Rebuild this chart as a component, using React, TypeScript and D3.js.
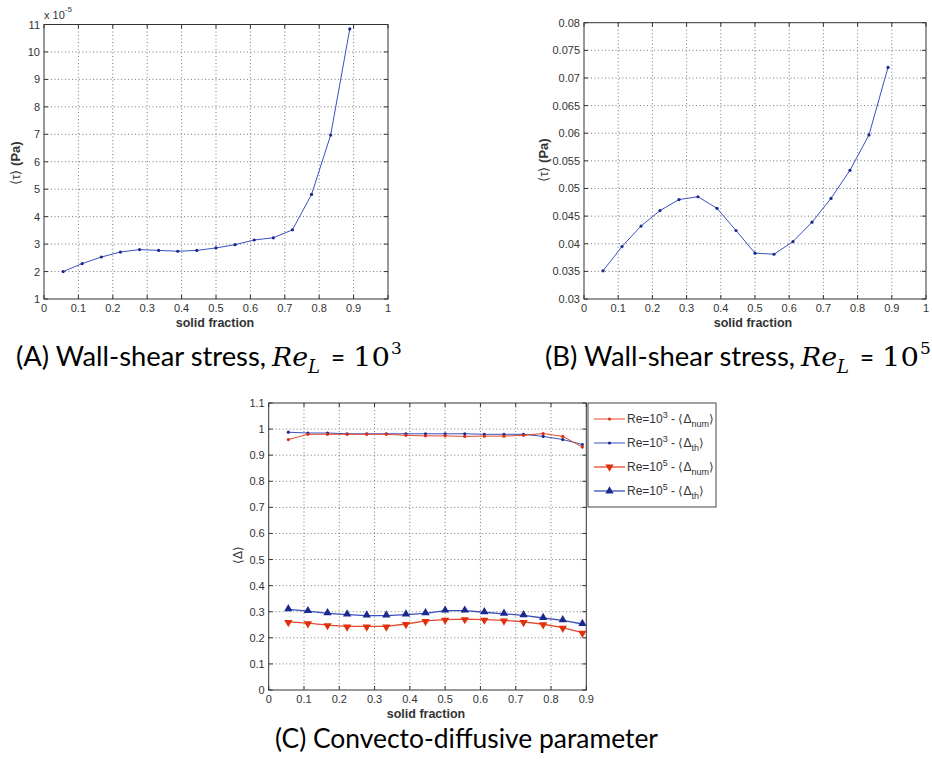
import React from "react";
import * as d3 from "d3";

// ---------- data ----------
const solidFraction = [0.0556, 0.1111, 0.1667, 0.2222, 0.2778, 0.3333, 0.3889, 0.4444, 0.5, 0.5556, 0.6111, 0.6667, 0.7222, 0.7778, 0.8333, 0.8889];
// wall shear stress, Re_L = 1e3 (x 1e-5 Pa)
const tauRe3 = [2.0, 2.29, 2.53, 2.71, 2.8, 2.77, 2.74, 2.77, 2.86, 2.98, 3.15, 3.23, 3.52, 4.81, 6.97, 10.84];
// wall shear stress, Re_L = 1e5 (Pa)
const tauRe5 = [0.0351, 0.0395, 0.0432, 0.046, 0.048, 0.0485, 0.0464, 0.0424, 0.0383, 0.0381, 0.0404, 0.0439, 0.0482, 0.0533, 0.0597, 0.0719];
// convecto-diffusive parameter
const deltaNumRe3 = [0.96, 0.98, 0.98, 0.98, 0.98, 0.98, 0.976, 0.974, 0.974, 0.972, 0.973, 0.973, 0.976, 0.983, 0.972, 0.931];
const deltaThRe3 = [0.988, 0.985, 0.985, 0.982, 0.982, 0.982, 0.982, 0.982, 0.982, 0.982, 0.98, 0.98, 0.98, 0.972, 0.96, 0.941];
const deltaNumRe5 = [0.261, 0.256, 0.249, 0.244, 0.244, 0.244, 0.253, 0.265, 0.27, 0.272, 0.27, 0.267, 0.261, 0.252, 0.239, 0.22];
const deltaThRe5 = [0.309, 0.302, 0.294, 0.289, 0.285, 0.285, 0.289, 0.294, 0.304, 0.304, 0.298, 0.292, 0.286, 0.276, 0.267, 0.253];

const xTicksAB = [0, 0.1, 0.2, 0.3, 0.4, 0.5, 0.6, 0.7, 0.8, 0.9, 1];
const yTicksA = [1, 2, 3, 4, 5, 6, 7, 8, 9, 10, 11];
const yTicksB = [0.03, 0.035, 0.04, 0.045, 0.05, 0.055, 0.06, 0.065, 0.07, 0.075, 0.08];
const xTicksC = [0, 0.1, 0.2, 0.3, 0.4, 0.5, 0.6, 0.7, 0.8, 0.9];
const yTicksC = [0, 0.1, 0.2, 0.3, 0.4, 0.5, 0.6, 0.7, 0.8, 0.9, 1, 1.1];

// ---------- style ----------
const AX_FONT = "'Liberation Sans', Arial, sans-serif";
const CAP_FONT = "Lato, 'Open Sans', sans-serif";
const MATH_FONT = "'DejaVu Serif', 'Liberation Serif', serif";
const TXT = "#333";
const BLUE_LINE = "#3c4fbf";
const BLUE_MARK = "#1a2a8c";
const RED_LINE = "#e4492c";
const RED_MARK = "#e0300c";

type Box = { l: number; t: number; r: number; b: number };

function fmt(v: number) {
  return String(+v.toFixed(3));
}

function Frame({ box, xs, ys, xTicks, yTicks }: any) {
  const tl = 4;
  return (
    <g>
      <rect x={box.l} y={box.t} width={box.r - box.l} height={box.b - box.t} fill="#fff" />
      {xTicks.slice(1, -1).map((v: number) => (
        <line key={"gx" + v} x1={xs(v)} x2={xs(v)} y1={box.t} y2={box.b} stroke="#555" strokeWidth={0.8} strokeDasharray="1,2.5" />
      ))}
      {yTicks.slice(1, -1).map((v: number) => (
        <line key={"gy" + v} x1={box.l} x2={box.r} y1={ys(v)} y2={ys(v)} stroke="#555" strokeWidth={0.8} strokeDasharray="1,2.5" />
      ))}
      {xTicks.map((v: number) => (
        <g key={"tx" + v}>
          <line x1={xs(v)} x2={xs(v)} y1={box.b} y2={box.b - tl} stroke="#333" />
          <line x1={xs(v)} x2={xs(v)} y1={box.t} y2={box.t + tl} stroke="#333" />
          <text x={xs(v)} y={box.b + 13} textAnchor="middle" fontFamily={AX_FONT} fontSize={11} fill={TXT}>
            {fmt(v)}
          </text>
        </g>
      ))}
      {yTicks.map((v: number) => (
        <g key={"ty" + v}>
          <line x1={box.l} x2={box.l + tl} y1={ys(v)} y2={ys(v)} stroke="#333" />
          <line x1={box.r} x2={box.r - tl} y1={ys(v)} y2={ys(v)} stroke="#333" />
          <text x={box.l - 4} y={ys(v) + 4} textAnchor="end" fontFamily={AX_FONT} fontSize={11} fill={TXT}>
            {fmt(v)}
          </text>
        </g>
      ))}
      <rect x={box.l} y={box.t} width={box.r - box.l} height={box.b - box.t} fill="none" stroke="#333" strokeWidth={1} />
    </g>
  );
}

function Series({ xs, ys, xv, yv, line, mark, kind }: any) {
  const gen = d3
    .line<number>()
    .x((_, i) => xs(xv[i]))
    .y((d) => ys(d));
  const tri = d3.symbol(d3.symbolTriangle, 30)();
  return (
    <g>
      <path d={gen(yv) || ""} fill="none" stroke={line} strokeWidth={kind === "dot" ? 1 : 1.3} />
      {yv.map((v: number, i: number) => {
        const cx = xs(xv[i]);
        const cy = ys(v);
        if (kind === "dot") return <circle key={i} cx={cx} cy={cy} r={1.6} fill={mark} />;
        if (kind === "down")
          return <path key={i} d={tri || ""} transform={`translate(${cx},${cy + 0.5}) rotate(180)`} fill={mark} />;
        return <path key={i} d={tri || ""} transform={`translate(${cx},${cy - 0.5})`} fill={mark} />;
      })}
    </g>
  );
}

function Caption({ x, y, label, exp }: { x: number; y: number; label: string; exp: string }) {
  return (
    <g fill="#000">
      <text x={x} y={y} fontFamily={CAP_FONT} fontSize={27} textLength={250} lengthAdjust="spacingAndGlyphs">
        {`(${label}) Wall-shear stress,`}
      </text>
      <text x={x + 256} y={y} fontFamily={MATH_FONT} fontStyle="italic" fontSize={26} textLength={36} lengthAdjust="spacingAndGlyphs">
        Re
      </text>
      <text x={x + 292} y={y + 7} fontFamily={MATH_FONT} fontStyle="italic" fontSize={18}>
        L
      </text>
      <text x={x + 315} y={y - 1} fontFamily={MATH_FONT} fontSize={22} textLength={14} lengthAdjust="spacingAndGlyphs">
        =
      </text>
      <text x={x + 337} y={y} fontFamily={MATH_FONT} fontSize={26} textLength={37} lengthAdjust="spacingAndGlyphs">
        10
      </text>
      <text x={x + 375} y={y - 12} fontFamily={MATH_FONT} fontSize={17}>
        {exp}
      </text>
    </g>
  );
}

function LegendText({ x, y, exp, sub }: any) {
  return (
    <text x={x} y={y} fontFamily={AX_FONT} fontSize={12} fill={TXT}>
      <tspan>Re=10</tspan>
      <tspan dy={-5} fontSize={9}>{exp}</tspan>
      <tspan dy={5}>{" - \u27E8\u0394"}</tspan>
      <tspan dy={4} fontSize={9}>{sub}</tspan>
      <tspan dy={-4}>{"\u27E9"}</tspan>
    </text>
  );
}

export default function App() {
  // Panel A
  const boxA: Box = { l: 44, t: 24.5, r: 388, b: 299 };
  const xA = d3.scaleLinear().domain([0, 1]).range([boxA.l, boxA.r]);
  const yA = d3.scaleLinear().domain([1, 11]).range([boxA.b, boxA.t]);
  // Panel B
  const boxB: Box = { l: 584, t: 22.7, r: 926, b: 299 };
  const xB = d3.scaleLinear().domain([0, 1]).range([boxB.l, boxB.r]);
  const yB = d3.scaleLinear().domain([0.03, 0.08]).range([boxB.b, boxB.t]);
  // Panel C
  const boxC: Box = { l: 268.7, t: 403, r: 586.3, b: 690 };
  const xC = d3.scaleLinear().domain([0, 0.9]).range([boxC.l, boxC.r]);
  const yC = d3.scaleLinear().domain([0, 1.1]).range([boxC.b, boxC.t]);

  const legend = [
    { line: RED_LINE, mark: RED_MARK, kind: "dot", exp: "3", sub: "num" },
    { line: BLUE_LINE, mark: BLUE_MARK, kind: "dot", exp: "3", sub: "th" },
    { line: RED_LINE, mark: RED_MARK, kind: "down", exp: "5", sub: "num" },
    { line: BLUE_LINE, mark: BLUE_MARK, kind: "up", exp: "5", sub: "th" },
  ];
  const tri = d3.symbol(d3.symbolTriangle, 30)() || "";

  return (
    <svg width={932} height={767} style={{ position: "absolute", left: 0, top: 0, background: "#fff" }}>
      <rect width={932} height={767} fill="#fff" />

      {/* Panel A */}
      <Frame box={boxA} xs={xA} ys={yA} xTicks={xTicksAB} yTicks={yTicksA} />
      <Series xs={xA} ys={yA} xv={solidFraction} yv={tauRe3} line={BLUE_LINE} mark={BLUE_MARK} kind="dot" />
      <text x={44} y={19} fontFamily={AX_FONT} fontSize={11} fill={TXT}>
        <tspan>x 10</tspan>
        <tspan dy={-7} fontSize={8}>-5</tspan>
      </text>
      <text x={215} y={327} textAnchor="middle" fontFamily={AX_FONT} fontSize={12.5} fontWeight="bold" fill={TXT}>
        solid fraction
      </text>
      <text transform={`translate(20,163) rotate(-90)`} textAnchor="middle" fontFamily={AX_FONT} fontSize={13} fill={TXT}>
        <tspan>{"\u27E8\u03C4\u27E9 "}</tspan>
        <tspan fontWeight="bold">(Pa)</tspan>
      </text>

      {/* Panel B */}
      <Frame box={boxB} xs={xB} ys={yB} xTicks={xTicksAB} yTicks={yTicksB} />
      <Series xs={xB} ys={yB} xv={solidFraction} yv={tauRe5} line={BLUE_LINE} mark={BLUE_MARK} kind="dot" />
      <text x={753} y={327} textAnchor="middle" fontFamily={AX_FONT} fontSize={12.5} fontWeight="bold" fill={TXT}>
        solid fraction
      </text>
      <text transform={`translate(548,160) rotate(-90)`} textAnchor="middle" fontFamily={AX_FONT} fontSize={13} fill={TXT}>
        <tspan>{"\u27E8\u03C4\u27E9 "}</tspan>
        <tspan fontWeight="bold">(Pa)</tspan>
      </text>

      {/* Panel C */}
      <Frame box={boxC} xs={xC} ys={yC} xTicks={xTicksC} yTicks={yTicksC} />
      <Series xs={xC} ys={yC} xv={solidFraction} yv={deltaThRe3} line={BLUE_LINE} mark={BLUE_MARK} kind="dot" />
      <Series xs={xC} ys={yC} xv={solidFraction} yv={deltaNumRe3} line={RED_LINE} mark={RED_MARK} kind="dot" />
      <Series xs={xC} ys={yC} xv={solidFraction} yv={deltaThRe5} line={BLUE_LINE} mark={BLUE_MARK} kind="up" />
      <Series xs={xC} ys={yC} xv={solidFraction} yv={deltaNumRe5} line={RED_LINE} mark={RED_MARK} kind="down" />
      <text x={426} y={718} textAnchor="middle" fontFamily={AX_FONT} fontSize={12.5} fontWeight="bold" fill={TXT}>
        solid fraction
      </text>
      <text transform={`translate(242,555) rotate(-90)`} textAnchor="middle" fontFamily={AX_FONT} fontSize={12} fill={TXT}>
        {"\u27E8\u0394\u27E9"}
      </text>

      {/* Legend */}
      <rect x={588} y={403} width={128} height={104} fill="#fff" stroke="#444" strokeWidth={1} />
      {legend.map((e, i) => {
        const ly = 419 + i * 24;
        return (
          <g key={i}>
            <line x1={594} x2={625} y1={ly} y2={ly} stroke={e.line} strokeWidth={e.kind === "dot" ? 1 : 1.3} />
            {e.kind === "dot" ? (
              <circle cx={609.5} cy={ly} r={1.6} fill={e.mark} />
            ) : (
              <path d={tri} transform={`translate(609.5,${ly}) rotate(${e.kind === "down" ? 180 : 0})`} fill={e.mark} />
            )}
            <LegendText x={627} y={ly + 4} exp={e.exp} sub={e.sub} />
          </g>
        );
      })}

      {/* Captions */}
      <Caption x={16} y={366} label="A" exp="3" />
      <Caption x={545} y={366} label="B" exp="5" />
      <text x={275} y={748} fontFamily={CAP_FONT} fontSize={27} textLength={383} lengthAdjust="spacingAndGlyphs" fill="#000">
        (C) Convecto-diffusive parameter
      </text>
    </svg>
  );
}
